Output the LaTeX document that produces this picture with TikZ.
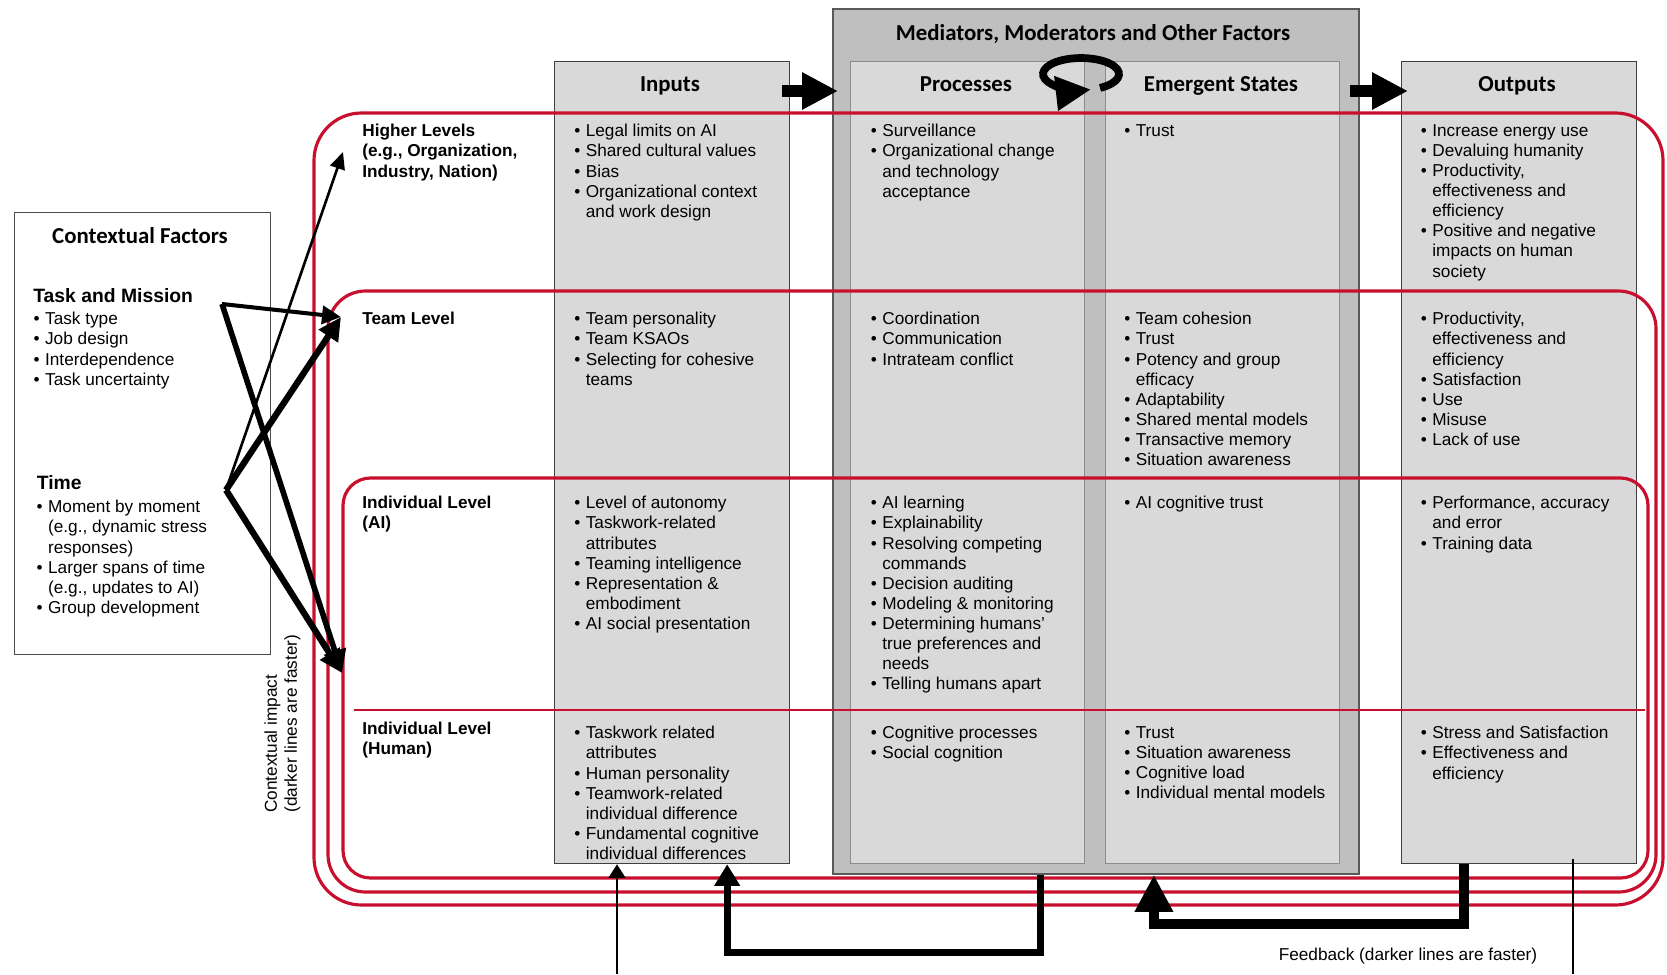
\documentclass[tikz,border=0pt]{standalone}
\usepackage{fontspec}
\setmainfont{Liberation Sans}
\newfontfamily\hdfont{Carlito}
\usetikzlibrary{arrows.meta,calc}

\definecolor{cellgray}{RGB}{217,217,217}
\definecolor{medgray}{RGB}{191,191,191}
\definecolor{levelred}{RGB}{200,16,46}

\newcommand{\bl}{\makebox[0.23cm][l]{\textbullet}}
\newcommand{\ind}{\hspace*{0.23cm}}

\begin{document}
\begin{tikzpicture}[x=0.02cm,y=-0.02cm,
    colbox/.style={draw=black!75, fill=cellgray, line width=0.8pt, inner sep=0, anchor=north west},
    inbox/.style={colbox, draw=black!45},
    medbox/.style={colbox, draw=black!65, fill=medgray, line width=1.1pt},
    hdr/.style={anchor=base, inner sep=0, font=\hdfont\bfseries\fontsize{13}{15}\selectfont},
    items/.style={anchor=north west, align=left, inner sep=0, font=\fontsize{9.8}{11.45}\selectfont,
      execute at begin node={\rule{0pt}{8.5pt}}},
    lvl/.style={items, font=\bfseries\fontsize{9.8}{11.45}\selectfont},
    ctxhd/.style={anchor=base west, inner sep=0, font=\bfseries\fontsize{11}{13}\selectfont},
    redline/.style={draw=levelred, line width=1.8pt},
    blockarr/.style={line width=0.24cm, -{Triangle[length=0.72cm, width=0.70cm]}},
    thinarr/.style={line width=1.5pt, -{Triangle[length=0.34cm, width=0.30cm]}},
    medarr/.style={line width=2.3pt, -{Triangle[length=0.38cm, width=0.36cm]}},
    thickarr/.style={line width=3.6pt, -{Triangle[length=0.46cm, width=0.44cm]}},
    fbthin/.style={line width=1.4pt, -{Triangle[length=0.27cm, width=0.33cm]}},
    fbmed/.style={line width=4pt, -{Triangle[length=0.43cm, width=0.49cm]}},
    fbthick/.style={line width=5.8pt, -{Triangle[length=0.74cm, width=0.72cm]}}]
\useasboundingbox (0,0) rectangle (1667,974);

% Draw boxes
\node[colbox, fill=white, draw=black!70, line width=0.6pt, minimum width=5.12cm, minimum height=8.84cm] (ctx) at (14,212) {};
\node[colbox, minimum width=4.7cm, minimum height=16.04cm] (inputs) at (554,61) {};
\node[medbox, minimum width=10.52cm, minimum height=17.3cm] (medi) at (832,8) {};
\node[inbox, minimum width=4.68cm, minimum height=16.04cm] (proc) at (850,61) {};
\node[inbox, minimum width=4.68cm, minimum height=16.04cm] (emer) at (1105,61) {};
\node[colbox, minimum width=4.7cm, minimum height=16.04cm] (outputs) at (1401,61) {};

% Headers
\node[hdr] (hMedi) at (1093,40) {Mediators, Moderators and Other Factors};
\node[hdr] (hIn) at (670,91) {Inputs};
\node[hdr] (hProc) at (966,91) {Processes};
\node[hdr] (hEmer) at (1221,91) {Emergent States};
\node[hdr] (hOut) at (1517,91) {Outputs};

% Draw levels
\draw[redline, rounded corners=0.95cm] (314,113) rectangle (1663,905);
\draw[redline, rounded corners=0.75cm] (328,291) rectangle (1656,892);
\draw[redline, rounded corners=0.55cm] (343,478) rectangle (1648,878);
\draw[draw=levelred, line width=1pt] (354,710) -- (1645,710);

% Level labels
\node[lvl] (lvHigh) at (362,124) {Higher Levels\\(e.g., Organization,\\Industry, Nation)};
\node[lvl] (lvTeam) at (362,309) {Team Level};
\node[lvl] (lvAI) at (362,496) {Individual Level\\(AI)};
\node[lvl] (lvHum) at (362,722) {Individual Level\\(Human)};

% Inputs
\node[items] (inHigh) at (574,124) {\bl Legal limits on AI\\ \bl Shared cultural values\\ \bl Bias\\ \bl Organizational context\\ \ind and work design};
\node[items] (inTeam) at (574,312) {\bl Team personality\\ \bl Team KSAOs\\ \bl Selecting for cohesive\\ \ind teams};
\node[items] (inAI) at (574,496) {\bl Level of autonomy\\ \bl Taskwork-related\\ \ind attributes\\ \bl Teaming intelligence\\ \bl Representation \&\\ \ind embodiment\\ \bl AI social presentation};
\node[items] (inHum) at (574,726) {\bl Taskwork related\\ \ind attributes\\ \bl Human personality\\ \bl Teamwork-related\\ \ind individual difference\\ \bl Fundamental cognitive\\ \ind individual differences};

% Processes
\node[items] (prHigh) at (870.5,124) {\bl Surveillance\\ \bl Organizational change\\ \ind and technology\\ \ind acceptance};
\node[items] (prTeam) at (870.5,312) {\bl Coordination\\ \bl Communication\\ \bl Intrateam conflict};
\node[items] (prAI) at (870.5,496) {\bl AI learning\\ \bl Explainability\\ \bl Resolving competing\\ \ind commands\\ \bl Decision auditing\\ \bl Modeling \& monitoring\\ \bl Determining humans’\\ \ind true preferences and\\ \ind needs\\ \bl Telling humans apart};
\node[items] (prHum) at (870.5,726) {\bl Cognitive processes\\ \bl Social cognition};

% Emergent states
\node[items] (emHigh) at (1124,121) {\bl Trust};
\node[items] (emTeam) at (1124,312) {\bl Team cohesion\\ \bl Trust\\ \bl Potency and group\\ \ind efficacy\\ \bl Adaptability\\ \bl Shared mental models\\ \bl Transactive memory\\ \bl Situation awareness};
\node[items] (emAI) at (1124,493) {\bl AI cognitive trust};
\node[items] (emHum) at (1124,726) {\bl Trust\\ \bl Situation awareness\\ \bl Cognitive load\\ \bl Individual mental models};

% Outputs
\node[items] (outHigh) at (1420.5,124) {\bl Increase energy use\\ \bl Devaluing humanity\\ \bl Productivity,\\ \ind effectiveness and\\ \ind efficiency\\ \bl Positive and negative\\ \ind impacts on human\\ \ind society};
\node[items] (outTeam) at (1420.5,312) {\bl Productivity,\\ \ind effectiveness and\\ \ind efficiency\\ \bl Satisfaction\\ \bl Use\\ \bl Misuse\\ \bl Lack of use};
\node[items] (outAI) at (1420.5,496) {\bl Performance, accuracy\\ \ind and error\\ \bl Training data};
\node[items] (outHum) at (1420.5,726) {\bl Stress and Satisfaction\\ \bl Effectiveness and\\ \ind efficiency};

% Contextual factors
\node[hdr] (ctxTitle) at (140,243) {Contextual Factors};
\node[ctxhd] (taskHd) at (33,302.5) {Task and Mission};
\node[items] (taskList) at (33.3,312) {\bl Task type\\ \bl Job design\\ \bl Interdependence\\ \bl Task uncertainty};
\node[ctxhd] (timeHd) at (36.5,489.5) {Time};
\node[items] (timeList) at (36.3,500) {\bl Moment by moment\\ \ind (e.g., dynamic stress\\ \ind responses)\\ \bl Larger spans of time\\ \ind (e.g., updates to AI)\\ \bl Group development};
\node[items, rotate=90, anchor=north west, execute at begin node={}] (ctxImpact) at (264,813) {Contextual impact\\(darker lines are faster)};

% Contextual arrows
\coordinate (task) at (222,304);
\coordinate (time) at (226,490);
\coordinate (tipHigh) at (343,152);
\coordinate (tipTeam) at (341,317);
\coordinate (tipAI) at (342,673);
\draw[thinarr] (time) -- (tipHigh);
\draw[medarr] (task) -- (tipTeam);
\draw[thickarr] (time) -- (tipTeam);
\draw[thickarr, line width=3.2pt] (task) -- (tipAI);
\draw[thickarr] (time) -- (tipAI);

% Block arrows and cycle
\coordinate (arrowrow) at (0,91);
\draw[blockarr] ($(arrowrow -| inputs.east)+(-8,0)$) -- ($(arrowrow -| medi.west)+(6,0)$);
\draw[blockarr] ($(arrowrow -| medi.east)+(-10,0)$) -- ($(arrowrow -| outputs.west)+(7,0)$);
\draw[line width=4.4pt, -{Triangle[length=0.7cm, width=0.66cm]}] (1100,87.9) arc[start angle=-60, end angle=285, x radius=0.76cm, y radius=0.32cm];

% Feedback
\coordinate (fbIn) at (617,974);
\coordinate (fbOut) at (1573,974);
\draw[fbthin] (fbIn) -- (fbIn |- inputs.south);
\draw[fbmed] ($(medi.south)+(-55,0)$) -- ++(0,78) -| ($(inputs.south)+(55,0)$);
\draw[fbthick] ($(outputs.south)+(-55,0)$) -- ++(0,60) -| ($(medi.south)+(58,0)$);
\draw[line width=1.4pt] (fbOut) -- ($(fbOut |- outputs.south)+(0,-5)$);
\node[items, anchor=center, execute at begin node={}] (fbText) at (1408,955) {Feedback (darker lines are faster)};
\end{tikzpicture}
\end{document}
